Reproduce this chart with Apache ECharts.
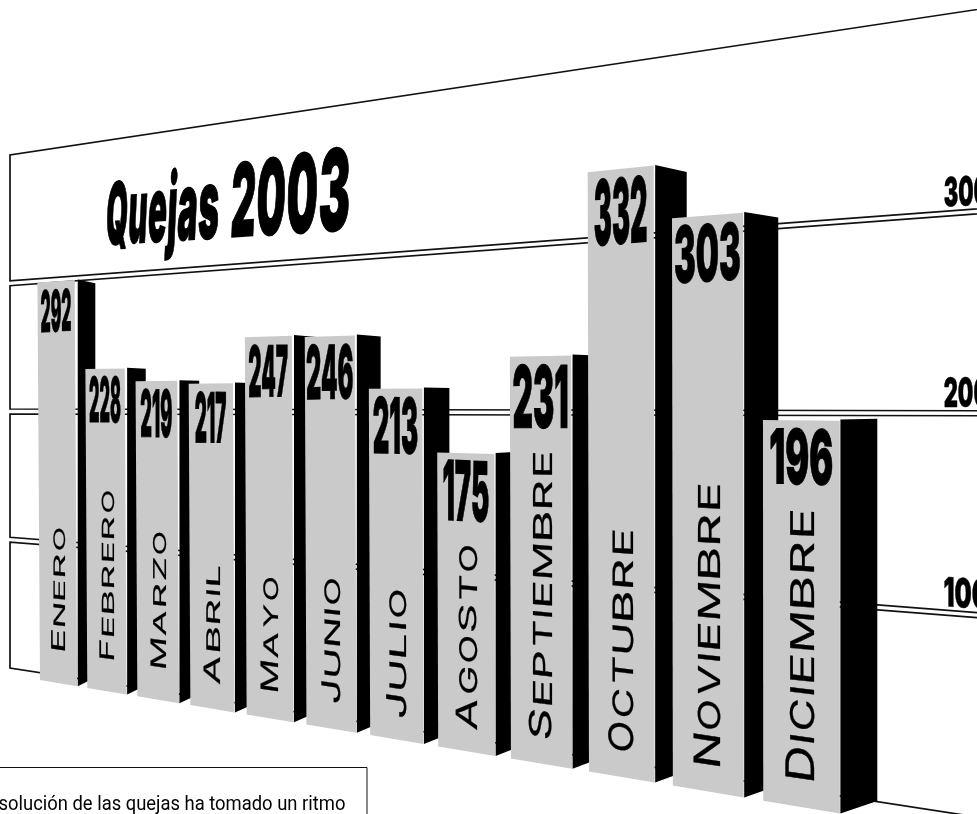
<!DOCTYPE html>
<html lang="es">
<head>
<meta charset="utf-8">
<title>Quejas 2003</title>
<style>html,body{margin:0;padding:0;background:#fff}#chart{width:977px;height:814px}</style>
<script src="https://cdn.jsdelivr.net/npm/echarts@6/dist/echarts.min.js"></script>
</head>
<body>
<div id="chart"></div>
<script>
// Complaints per month, 2003
const categories = ['Enero','Febrero','Marzo','Abril','Mayo','Junio','Julio','Agosto','Septiembre','Octubre','Noviembre','Diciembre'];
const complaints = [292,228,219,217,247,246,213,175,231,332,303,196];
const wallTicks = [0,100,200,300,400];
const tickLabels = [100,200,300];
const chartTitle = 'Quejas 2003';
const noteText = 'solución de las quejas ha tomado un ritmo';

// Lettering fit for each bar: digit box [w,h], month text [gap above the base, length]
const digitBox = [[30,44],[31,47],[31,50],[31,52],[39,53],[46,57],[44,59],[45,62],[54,66],[52,69],[65,60],[62,58]];
const monthFit = [[30,122],[29,168],[29,135],[22,117],[24,113],[22,124],[18,127],[18,183],[21,285],[21,220],[21,280],[22,268]];

const W = 977, H = 814;
const BAR_SHARE = 0.79, DEPTH = 0.49, DEPTH_SHRINK = 0.97, HORIZON = 400;
const FACE_VANISH = -1643, WALL_VANISH = -1600, WALL_HORIZON = 412;
const SLOT = 2.5;
const GRAY = '#cacaca', INK = '#000', LINE = '#111';
const HEAVY = '900 60px Inter,Roboto,sans-serif';
const TITLE_FONT = '900 100px Inter,Roboto,sans-serif';
const TITLE_TRACK = 2, TITLE_WORD_GAP = 8;
const MONTH_FONT = '400 40px Inter,"DejaVu Sans",sans-serif';
// Relative letter widths that give the month names their wide, even rhythm
const LETTER_WIDTH = {I:0.2,M:1.22,A:1.12,T:0.92,J:0.78,L:0.82,E:0.86,F:0.82,P:0.9,Z:0.95,Y:1.02};
const LETTER_GAP = 0.22;

// Square-to-quad projective map; corners run TL, TR, BR, BL
function quadMap(q) {
  const [[x0,y0],[x1,y1],[x2,y2],[x3,y3]] = q;
  const dx1=x1-x2, dx2=x3-x2, sx=x0-x1+x2-x3, dy1=y1-y2, dy2=y3-y2, sy=y0-y1+y2-y3;
  const det=dx1*dy2-dx2*dy1, g=(sx*dy2-dx2*sy)/det, h=(dx1*sy-sx*dy1)/det;
  const a=x1-x0+g*x1, b=x3-x0+h*x3, d=y1-y0+g*y1, e=y3-y0+h*y3;
  return (u,v) => { const k=g*u+h*v+1; return [(a*u+b*v+x0)/k,(d*u+e*v+y0)/k]; };
}
const wallPlane  = quadMap([[10,155],[977,9.5],[977,817],[10,668]]);
const facePlane  = quadMap([[36.5,135],[861,6],[861,817],[40,680]]);
const sidePlane  = quadMap([[40,135],[861,6],[861,817],[40,680]]);
const titlePlane = quadMap([[108,183],[352,146],[349,229.5],[105,245]]);

const faceSlope = (x,y) => (y-HORIZON)/(x-FACE_VANISH);
const wallSlope = (x,y) => (y-WALL_HORIZON)/(x-WALL_VANISH);

const meter = document.createElement('canvas').getContext('2d');
function inkOf(text, font) {
  meter.font = font; meter.textAlign = 'left'; meter.textBaseline = 'alphabetic';
  const m = meter.measureText(text);
  const asc = m.actualBoundingBoxAscent;
  meter.textBaseline = 'middle';
  const mid = asc - meter.measureText(text).actualBoundingBoxAscent;
  return { l:m.actualBoundingBoxLeft, r:m.actualBoundingBoxRight, a:asc, d:m.actualBoundingBoxDescent, adv:m.width, mid };
}
// Text under any 2x2 linear map, split into rotate-scale-rotate nested groups.
// (ox,oy) is where the pen start on the baseline lands.
function warpedText(text, font, ox, oy, m11, m12, m21, m22, heavy) {
  const E=(m11+m22)/2, F=(m11-m22)/2, G=(m21+m12)/2, K=(m21-m12)/2;
  const Q=Math.hypot(E,K), R=Math.hypot(F,G);
  const a1=Math.atan2(G,F), a2=Math.atan2(K,E);
  const theta=(a2-a1)/2, phi=(a2+a1)/2;
  const mid=inkOf(text,font).mid;
  return { type:'group', x:ox, y:oy, rotation:-phi, scaleX:Q+R, scaleY:Q-R, silent:true, children:[
    { type:'group', rotation:-theta, children:[
      { type:'text', x:0, y:-mid, silent:true,
        style:{ text, font, fill:INK, align:'left', verticalAlign:'middle',
                stroke: heavy?INK:null, lineWidth: heavy||0 } }
    ]}
  ]};
}
// Fit a string's ink into a box whose horizontals follow the given slope
function boxText(text, font, cx, cy, w, h, slope, heavy) {
  const k=inkOf(text,font), sx=w/(k.l+k.r), sy=h/(k.a+k.d);
  const icx=(k.r-k.l)/2, icy=(k.d-k.a)/2;
  const m11=sx, m12=0, m21=sx*slope, m22=sy;
  return warpedText(text,font,cx-m11*icx-m12*icy,cy-m21*icx-m22*icy,m11,m12,m21,m22,heavy);
}
// Month name reading upward, one glyph at a time, with an enlarged initial
function monthLabel(name, xb, yb, len, cap) {
  const letters = name.toUpperCase().split('');
  const sizes = letters.map((c,i)=>(LETTER_WIDTH[c]||1)*(i===0?1.05:1));
  const total = sizes.reduce((s,v)=>s+v,0)+LETTER_GAP*(letters.length-1);
  const unit = len/total;
  let y = yb;
  return letters.map((c,i)=>{
    const l = sizes[i]*unit, h = i===0?cap*1.2:cap;
    const k = inkOf(c,MONTH_FONT), kx=l/(k.l+k.r), ky=h/(k.a+k.d);
    const cx = xb-h/2, cy = y-l/2, s = faceSlope(cx,cy);
    const m11=0, m21=-kx, m12=ky, m22=ky*s;
    const icx=(k.r-k.l)/2, icy=(k.d-k.a)/2;
    y -= l+LETTER_GAP*unit;
    return warpedText(c,MONTH_FONT,cx-m11*icx-m12*icy,cy-m21*icx-m22*icy,m11,m12,m21,m22,0.3);
  });
}
// Title set glyph by glyph across its own perspective box
function titleGlyphs(text, font) {
  const cap=inkOf('H',font).a;
  const pens=[]; let pen=0;
  for (let i=0;i<text.length;i++){
    pens.push(pen);
    pen+=inkOf(text[i],font).adv+TITLE_TRACK+(text[i]===' '?TITLE_WORD_GAP:0);
  }
  const span=pen-TITLE_TRACK;
  const out=[];
  for (let i=0;i<text.length;i++){
    if (text[i]===' ') continue;
    const adv=inkOf(text[i],font).adv;
    const u0=pens[i]/span, u1=(pens[i]+adv)/span, uc=(u0+u1)/2;
    const o=titlePlane(u0,1), e=titlePlane(u1,1), top=titlePlane(uc,0), bot=titlePlane(uc,1);
    out.push(warpedText(text[i],font,o[0],o[1],(e[0]-o[0])/adv,(bot[0]-top[0])/cap,(e[1]-o[1])/adv,(bot[1]-top[1])/cap,1.5));
  }
  return out;
}

const chart = echarts.init(document.getElementById('chart'), null, {renderer:'canvas'});

chart.setOption({
  animation:false,
  backgroundColor:'#fff',
  grid:{left:0,right:0,top:0,bottom:0},
  xAxis:{type:'category',data:categories,show:false,boundaryGap:true},
  yAxis:{type:'value',min:0,max:400,interval:100,show:false},
  graphic:[
    {type:'rect',shape:{x:-6,y:767.5,width:373,height:90},style:{fill:'none',stroke:LINE,lineWidth:1},silent:true,z:5},
    Object.assign(boxText(noteText,'40px Roboto',172,804.5,346,19.5,0,0),{z:5})
  ],
  series:[
    {
      // Back wall: one open panel per 100 complaints, separated by a thin slot
      type:'custom', coordinateSystem:'cartesian2d', clip:false, z:1, silent:true,
      data: wallTicks.slice(0,-1).map((t,i)=>[t,wallTicks[i+1]]),
      renderItem(params,api){
        const lo=api.value(0), hi=api.value(1);
        const vy = v => api.coord([0,v])[1]/H;
        const edge = (v,shift) => [wallPlane(0,vy(v)),wallPlane(1.2,vy(v))].map(p=>[p[0],p[1]+shift]);
        const [tl,tr]=edge(hi,hi===400?0:SLOT), [bl,br]=edge(lo,lo===0?0:-SLOT);
        return {type:'polyline',shape:{points:[tr,tl,bl,br]},style:{fill:'none',stroke:LINE,lineWidth:1.7}};
      }
    },
    {
      // Axis numbers at the far end of the wall
      type:'custom', coordinateSystem:'cartesian2d', clip:false, z:2, silent:true,
      data: tickLabels.map(t=>[t]),
      renderItem(params,api){
        const v=api.value(0), vy=api.coord([0,v])[1]/H;
        const p=wallPlane(0.993,vy);
        return boxText(String(v),HEAVY,p[0],p[1]-21.5,44,31,wallSlope(p[0],p[1])*0.7,0.8);
      }
    },
    {
      // Chart title on the top panel of the wall
      type:'custom', coordinateSystem:'cartesian2d', clip:false, z:2, silent:true,
      data:[[0]],
      renderItem(){ return {type:'group',children:titleGlyphs(chartTitle,TITLE_FONT)}; }
    },
    {
      // Bars, painted left to right so nearer ones cover the sides of earlier ones
      type:'custom', coordinateSystem:'cartesian2d', clip:false, z:3, silent:true,
      data: complaints.map((v,i)=>[i,v]),
      renderItem(params,api){
        const i=api.value(0), v=api.value(1);
        const band=api.size([1,0])[0];
        const left=api.coord([i,0])[0]-band/2, right=left+band*BAR_SHARE;
        const yTop=api.coord([i,v])[1]/H, yBase=api.coord([i,0])[1]/H;
        const tl=facePlane(left/W,yTop), tr=facePlane(right/W,yTop), br=facePlane(right/W,yBase), bl=facePlane(left/W,yBase);
        const st=sidePlane(right/W,yTop), sb=sidePlane(right/W,yBase);
        const faceW=sb[0]-bl[0], depth=faceW*DEPTH;
        const back = p => [p[0]+depth, HORIZON+(p[1]-HORIZON)*DEPTH_SHRINK];
        const cx=(tl[0]+tr[0])/2, cyTop=(tl[1]+tr[1])/2;
        const [dw,dh]=digitBox[i], [gap,len]=monthFit[i];
        const cap=faceW*0.31, xb=(bl[0]+br[0])/2+cap/2+1;
        const cy=cyTop+7+dh/2;
        const kids=[
          {type:'polygon',shape:{points:[[st[0]+0.6,st[1]],back(st),back(sb),[sb[0]+0.6,sb[1]]]},style:{fill:INK}},
          {type:'polygon',shape:{points:[tl,tr,br,bl]},style:{fill:GRAY}},
          boxText(String(v),HEAVY,cx,cy,dw,dh,faceSlope(cx,cy),0.8)
        ].concat(monthLabel(categories[i],xb,bl[1]-gap,len,cap));
        return {type:'group',children:kids};
      }
    }
  ]
});
</script>
</body>
</html>
